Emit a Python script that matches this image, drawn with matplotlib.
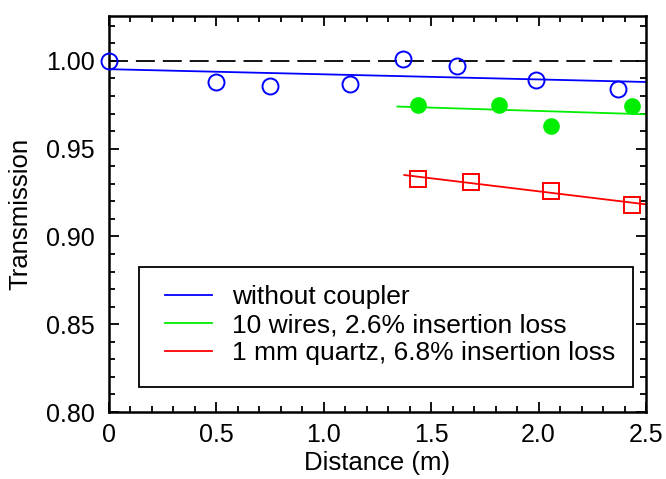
import matplotlib
matplotlib.use("Agg")
import matplotlib.pyplot as plt
import numpy as np
from matplotlib.ticker import MultipleLocator
from matplotlib.patches import Rectangle

plt.rcParams['font.family'] = ['Liberation Sans', 'DejaVu Sans']

# data
blue_x = [0.0, 0.50, 0.75, 1.12, 1.37, 1.62, 1.99, 2.37]
blue_y = [1.000, 0.988, 0.986, 0.987, 1.001, 0.997, 0.989, 0.984]
blue_fit_x = [0.0, 2.5]
blue_fit_y = [0.9953, 0.9880]

green_x = [1.437, 1.816, 2.058, 2.433]
green_y = [0.975, 0.975, 0.963, 0.9745]
green_fit_x = [1.343, 2.5]
green_fit_y = [0.974, 0.9696]

red_x = [1.437, 1.685, 2.058, 2.435]
red_y = [0.933, 0.931, 0.926, 0.918]
red_fit_x = [1.375, 2.5]
red_fit_y = [0.935, 0.9183]

labels = ["without coupler", "10 wires, 2.6% insertion loss", "1 mm quartz, 6.8% insertion loss"]
xticks = [0, 0.5, 1.0, 1.5, 2.0, 2.5]
xticklabels = ["0", "0.5", "1.0", "1.5", "2.0", "2.5"]
yticks = [0.80, 0.85, 0.90, 0.95, 1.00]
yticklabels = ["0.80", "0.85", "0.90", "0.95", "1.00"]

W, H = 666, 479
fig = plt.figure(figsize=(W/100, H/100), dpi=100)
L, R, T, B = 109, 646, 16, 412
ax = fig.add_axes([L/W, 1-B/H, (R-L)/W, (B-T)/H])

def ax_x(px):
    return (px - L) / (R - L)

def ax_y(py):
    return (B - py) / (B - T)

ax.axhline(1.0, color='black', lw=1.3, dashes=(10.5, 4.4), zorder=1)

l1, = ax.plot(blue_fit_x, blue_fit_y, color='#0000ff', lw=1.3)
l2, = ax.plot(green_fit_x, green_fit_y, color='#00ee00', lw=1.3)
l3, = ax.plot(red_fit_x, red_fit_y, color='#ff0000', lw=1.3)

ax.plot(blue_x, blue_y, 'o', ms=11.5, mfc='none', mec='#0000ff', mew=1.4, clip_on=False, zorder=3)
ax.plot(green_x, green_y, 'o', ms=12, mfc='#00ee00', mec='#00ee00', mew=0, zorder=3)
ax.plot(red_x, red_y, 's', ms=11, mfc='none', mec='#ff0000', mew=1.4, zorder=3)

ax.set_xlim(0, 2.5)
ax.set_ylim(0.80, 1.0256)
ax.set_xticks(xticks)
ax.set_xticklabels(xticklabels)
ax.set_yticks(yticks)
ax.set_yticklabels(yticklabels)
ax.xaxis.set_minor_locator(MultipleLocator(0.1))
ax.yaxis.set_minor_locator(MultipleLocator(0.01))
ax.tick_params(which='both', direction='in', top=True, right=True, width=1.3, labelsize=18)
ax.tick_params(which='major', length=7)
ax.tick_params(which='minor', length=4)
ax.tick_params(axis='x', pad=8)
ax.tick_params(axis='y', pad=10)
for s in ax.spines.values():
    s.set_linewidth(1.8)

ax.set_xlabel("Distance (m)", fontsize=18.5, labelpad=2.5)
ax.set_ylabel("Transmission", fontsize=18.5, labelpad=10)

# legend frame
ax.add_patch(Rectangle((ax_x(139), ax_y(387)), ax_x(633) - ax_x(139), ax_y(267) - ax_y(387),
                       transform=ax.transAxes, fill=True, facecolor='white',
                       edgecolor='black', lw=1.3, zorder=4))

leg = ax.legend([l1, l2, l3], labels, loc='upper left',
                bbox_to_anchor=(ax_x(165), ax_y(285)),
                fontsize=19, frameon=False, handlelength=1.78,
                handletextpad=0.76, labelspacing=0.16, borderpad=0, borderaxespad=0)
leg.set_zorder(5)

fig.savefig("out.png", dpi=100)
